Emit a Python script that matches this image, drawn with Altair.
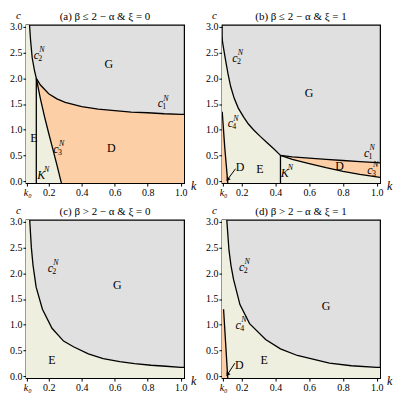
import altair as alt
import pandas as pd

FONT = "Liberation Serif"
W, H = 159, 159
C_MIN, C_MAX = -0.04, 3.04
K_MAX = 1.02
GRAY, SALMON, BEIGE = "#e0e0e0", "#fccfa7", "#efefdf"

Y_TICKS = [0.0, 0.5, 1.0, 1.5, 2.0, 2.5, 3.0]
X_TICKS = [0.2, 0.4, 0.6, 0.8, 1.0]

# ---------------- panel (a) ----------------
a_kmin, a_k0 = 0.062, 0.07
a_c1_k = [0.125, 0.15, 0.2, 0.25, 0.3, 0.4, 0.5, 0.6, 0.7, 0.8, 0.9, 1.0, 1.02]
a_c1_c = [2.0, 1.87, 1.70, 1.60, 1.53, 1.45, 1.40, 1.37, 1.34, 1.33, 1.31, 1.30, 1.30]
a_c2_k = [0.084, 0.09, 0.10, 0.114, 0.125]
a_c2_c = [3.04, 2.75, 2.4, 2.15, 2.0]
a_c3_k = [0.125, 0.15, 0.175, 0.2, 0.225, 0.25, 0.274, 0.277]
a_c3_c = [2.0, 1.6, 1.25, 0.93, 0.62, 0.31, 0.0, -0.04]
a_kn_k = [0.125, 0.125]
a_kn_c = [-0.04, 2.0]
a_reg_t = ["G", "D", "E"]
a_reg_k = [0.564, 0.58, 0.11]
a_reg_c = [2.27, 0.65, 0.84]
a_lab_main = ["c", "c", "c", "K"]
a_lab_sub = ["2", "1", "3", ""]
a_lab_sup = ["N", "N", "N", "N"]
a_lab_k = [0.125, 0.876, 0.244, 0.154]
a_lab_c = [2.46, 1.51, 0.63, 0.11]

# ---------------- panel (b) ----------------
b_kmin, b_k0 = 0.083, 0.09
b_c2_k = [0.083, 0.09, 0.103, 0.119, 0.135, 0.156, 0.18, 0.213, 0.24, 0.27, 0.31, 0.346, 0.39, 0.43]
b_c2_c = [2.8, 2.64, 2.39, 2.09, 1.84, 1.61, 1.42, 1.24, 1.11, 1.0, 0.87, 0.76, 0.63, 0.5]
b_r_k = [0.43, 0.5, 0.6, 0.7, 0.8, 0.9, 1.0, 1.02]
b_c1_c = [0.5, 0.47, 0.445, 0.42, 0.40, 0.38, 0.36, 0.355]
b_c3_c = [0.5, 0.42, 0.34, 0.26, 0.19, 0.13, 0.08, 0.07]
b_c4_k = [0.085, 0.1, 0.117, 0.118]
b_c4_c = [1.35, 0.65, 0.0, -0.04]
b_kn_k = [0.43, 0.43]
b_kn_c = [-0.04, 0.5]
b_arrow_k = [0.164, 0.117]
b_arrow_c = [0.24, 0.03]
b_reg_t = ["G", "E", "D", "D"]
b_reg_k = [0.60, 0.308, 0.78, 0.19]
b_reg_c = [1.72, 0.24, 0.30, 0.27]
b_lab_main = ["c", "c", "c", "c", "K"]
b_lab_sub = ["2", "4", "1", "3", ""]
b_lab_sup = ["N", "N", "N", "N", "N"]
b_lab_k = [0.16, 0.133, 0.94, 0.96, 0.455]
b_lab_c = [2.39, 1.12, 0.55, 0.21, 0.15]

# ---------------- panel (c) ----------------
c_kmin, c_k0 = 0.062, 0.07
c_c2_k = [0.085, 0.095, 0.105, 0.124, 0.162, 0.22, 0.29, 0.35, 0.44, 0.53, 0.63, 0.72, 0.82, 0.91, 1.0, 1.02]
c_c2_c = [3.04, 2.5, 2.16, 1.73, 1.3, 0.93, 0.68, 0.57, 0.43, 0.34, 0.28, 0.24, 0.21, 0.19, 0.17, 0.17]
c_reg_t = ["G", "E"]
c_reg_k = [0.615, 0.219]
c_reg_c = [1.78, 0.31]
c_lab_main = ["c"]
c_lab_sub = ["2"]
c_lab_sup = ["N"]
c_lab_k = [0.21]
c_lab_c = [2.1]

# ---------------- panel (d) ----------------
d_kmin, d_k0 = 0.083, 0.09
d_c2_k = [0.112, 0.125, 0.137, 0.152, 0.19, 0.247, 0.342, 0.43, 0.53, 0.72, 0.85, 1.0, 1.02]
d_c2_c = [3.04, 2.45, 2.15, 1.88, 1.39, 1.02, 0.71, 0.53, 0.40, 0.25, 0.2, 0.17, 0.17]
d_c4_k = [0.093, 0.105, 0.117, 0.118]
d_c4_c = [1.3, 0.65, 0.0, -0.04]
d_arrow_k = [0.16, 0.116]
d_arrow_c = [0.25, 0.03]
d_reg_t = ["G", "E", "D"]
d_reg_k = [0.70, 0.333, 0.186]
d_reg_c = [1.36, 0.31, 0.22]
d_lab_main = ["c", "c"]
d_lab_sub = ["2", "4"]
d_lab_sup = ["N", "N"]
d_lab_k = [0.2, 0.18]
d_lab_c = [2.13, 1.0]


def make_panel(title, kmin, k0, areas, curves, arrow, regions, labels):
    dom = [kmin, K_MAX]
    xaxis = alt.Axis(
        values=[k0] + X_TICKS,
        labelExpr="datum.value < 0.15 ? 'k\u2080' : format(datum.value, '.1f')",
        labelFontStyle={"condition": {"test": "datum.value < 0.15", "value": "italic"},
                        "value": "normal"},
        title="k", titleX=W + 9, titleY=2, titleAlign="center", titleBaseline="middle",
        titleFontStyle="italic", labelFlush=False, labelOverlap=False,
    )
    yaxis = alt.Axis(
        values=Y_TICKS, format=".1f", title="c", titleAngle=0, titleX=-8, titleY=-6,
        titleAlign="center", titleBaseline="alphabetic", titleFontStyle="italic",
        titleFontSize=11, labelFlush=False, labelOverlap=False,
    )

    def X(f):
        return alt.X(f"{f}:Q", scale=alt.Scale(domain=dom, nice=False, zero=False), axis=xaxis)

    def Y(f):
        return alt.Y(f"{f}:Q", scale=alt.Scale(domain=[C_MIN, C_MAX], nice=False, zero=False), axis=yaxis)

    layers = []
    for ks, top, bot, color in areas:
        df = pd.DataFrame({"k": ks, "top": top, "bot": bot})
        layers.append(alt.Chart(df).mark_area(color=color, clip=True).encode(
            x=X("k"), y=Y("top"), y2="bot:Q"))
    rows = []
    for name, ks, cs in curves:
        for i, (kk, cc) in enumerate(zip(ks, cs)):
            rows.append({"curve": name, "i": i, "k": kk, "c": cc})
    ldf = pd.DataFrame(rows)
    layers.append(alt.Chart(ldf).mark_line(color="black", strokeWidth=1.3, clip=True).encode(
        x=X("k"), y=Y("c"), detail="curve:N", order="i:Q"))
    if arrow is not None:
        ak, ac = arrow
        adf = pd.DataFrame({"k": ak, "c": ac, "i": [0, 1]})
        layers.append(alt.Chart(adf).mark_line(color="black", strokeWidth=1).encode(
            x=X("k"), y=Y("c"), order="i:Q"))
        hdf = pd.DataFrame({"k": ak[1:], "c": ac[1:]})
        layers.append(alt.Chart(hdf).mark_point(shape="triangle-up", filled=True, size=22,
                                                color="black", opacity=1, angle=215).encode(
            x=X("k"), y=Y("c")))
    rt, rk, rc = regions
    rdf = pd.DataFrame({"t": rt, "k": rk, "c": rc})
    layers.append(alt.Chart(rdf).mark_text(font=FONT, fontSize=12, color="black").encode(
        x=X("k"), y=Y("c"), text="t:N"))
    lm, ls, lp, lk, lc = labels
    ldf2 = pd.DataFrame({"m": lm, "s": ls, "p": lp, "k": lk, "c": lc})
    layers.append(alt.Chart(ldf2).mark_text(font=FONT, fontSize=12, fontStyle="italic",
                                            color="black").encode(
        x=X("k"), y=Y("c"), text="m:N"))
    layers.append(alt.Chart(ldf2).mark_text(font=FONT, fontSize=8, color="black", align="left",
                                            dx=2, dy=4).encode(
        x=X("k"), y=Y("c"), text="s:N"))
    layers.append(alt.Chart(ldf2).mark_text(font=FONT, fontSize=8, fontStyle="italic",
                                            color="black", align="left", dx=3, dy=-5).encode(
        x=X("k"), y=Y("c"), text="p:N"))
    return alt.layer(*layers).properties(
        width=W, height=H,
        title=alt.TitleParams(title, font=FONT, fontSize=11, fontWeight="normal", offset=0,
                              dy=12, anchor="middle", frame="group", color="black"),
    )


def cmin(n):
    return [C_MIN] * n


# panel (a)
a_E_k = [a_kmin] + a_c2_k + a_c3_k[1:]
a_E_c = [C_MAX] + a_c2_c + a_c3_c[1:]
pa = make_panel(
    "(a) \u03b2 \u2264 2 \u2212 \u03b1 & \u03be = 0", a_kmin, a_k0,
    areas=[(a_c1_k, a_c1_c, cmin(len(a_c1_k)), SALMON),
           (a_E_k, a_E_c, cmin(len(a_E_k)), BEIGE)],
    curves=[("c1", a_c1_k, a_c1_c), ("c2", a_c2_k, a_c2_c), ("c3", a_c3_k, a_c3_c),
            ("kn", a_kn_k, a_kn_c)],
    arrow=None,
    regions=(a_reg_t, a_reg_k, a_reg_c),
    labels=(a_lab_main, a_lab_sub, a_lab_sup, a_lab_k, a_lab_c),
)

# panel (b)
b_E_k = b_c2_k + b_r_k[1:]
b_E_c = b_c2_c + b_c1_c[1:]
b_W_k = [b_kmin] + b_c4_k
b_W_c = [b_c4_c[0]] + b_c4_c
pb = make_panel(
    "(b) \u03b2 \u2264 2 \u2212 \u03b1 & \u03be = 1", b_kmin, b_k0,
    areas=[(b_E_k, b_E_c, cmin(len(b_E_k)), BEIGE),
           (b_r_k, b_c1_c, b_c3_c, SALMON),
           (b_W_k, b_W_c, cmin(len(b_W_k)), SALMON)],
    curves=[("c2", b_c2_k, b_c2_c), ("c1", b_r_k, b_c1_c), ("c3", b_r_k, b_c3_c),
            ("c4", b_c4_k, b_c4_c), ("kn", b_kn_k, b_kn_c)],
    arrow=(b_arrow_k, b_arrow_c),
    regions=(b_reg_t, b_reg_k, b_reg_c),
    labels=(b_lab_main, b_lab_sub, b_lab_sup, b_lab_k, b_lab_c),
)

# panel (c)
c_E_k = [c_kmin] + c_c2_k
c_E_c = [C_MAX] + c_c2_c
pc = make_panel(
    "(c) \u03b2 > 2 \u2212 \u03b1 & \u03be = 0", c_kmin, c_k0,
    areas=[(c_E_k, c_E_c, cmin(len(c_E_k)), BEIGE)],
    curves=[("c2", c_c2_k, c_c2_c)],
    arrow=None,
    regions=(c_reg_t, c_reg_k, c_reg_c),
    labels=(c_lab_main, c_lab_sub, c_lab_sup, c_lab_k, c_lab_c),
)

# panel (d)
d_E_k = [d_kmin] + d_c2_k
d_E_c = [C_MAX] + d_c2_c
d_W_k = [d_kmin] + d_c4_k
d_W_c = [d_c4_c[0]] + d_c4_c
pd_ = make_panel(
    "(d) \u03b2 > 2 \u2212 \u03b1 & \u03be = 1", d_kmin, d_k0,
    areas=[(d_E_k, d_E_c, cmin(len(d_E_k)), BEIGE),
           (d_W_k, d_W_c, cmin(len(d_W_k)), SALMON)],
    curves=[("c2", d_c2_k, d_c2_c), ("c4", d_c4_k, d_c4_c)],
    arrow=(d_arrow_k, d_arrow_c),
    regions=(d_reg_t, d_reg_k, d_reg_c),
    labels=(d_lab_main, d_lab_sub, d_lab_sup, d_lab_k, d_lab_c),
)

chart = alt.concat(
    pa, pb, pc, pd_, columns=2, spacing={"row": 37, "column": 38}, bounds="flush"
).properties(padding=0).configure_view(
    stroke="black", strokeWidth=1.2, fill=GRAY
).configure_axis(
    grid=False, domain=False, labelFont=FONT, labelFontSize=10, labelColor="black",
    tickColor="black", tickSize=3, labelPadding=1, titleFont=FONT, titleFontSize=12,
    titleFontWeight="normal", titleColor="black", titlePadding=0,
)

chart.save("out.html", embed_options={"renderer": "svg", "actions": False})
